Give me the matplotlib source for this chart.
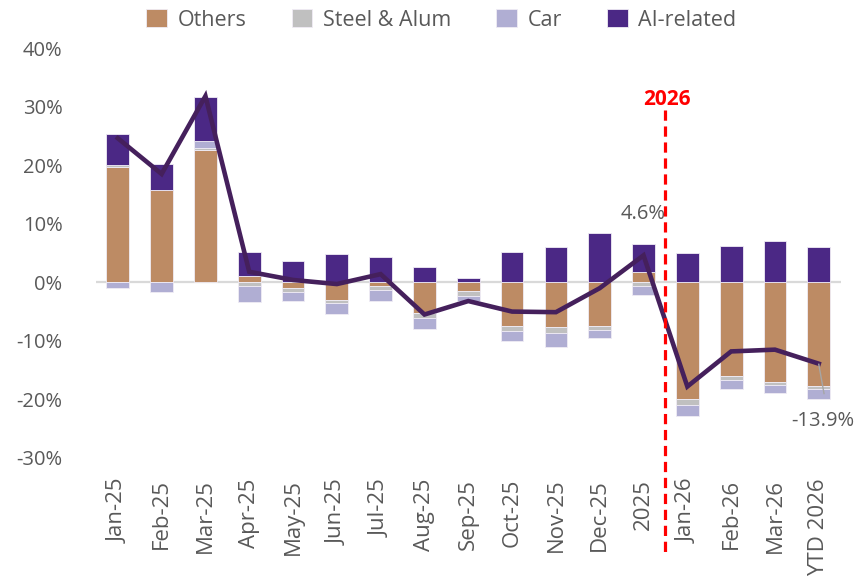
import matplotlib
matplotlib.use("Agg")
import matplotlib.pyplot as plt
import numpy as np

labels = ["Jan-25", "Feb-25", "Mar-25", "Apr-25", "May-25", "Jun-25", "Jul-25",
          "Aug-25", "Sep-25", "Oct-25", "Nov-25", "Dec-25", "2025",
          "Jan-26", "Feb-26", "Mar-26", "YTD 2026"]

others = [19.7, 15.7, 22.6, 1.0, -1.0, -3.0, -0.6, -5.3, -1.5, -7.5, -7.7, -7.5, 1.7,
          -19.9, -16.0, -17.1, -17.7]
steel = [0.3, 0.0, 0.4, -0.6, -0.7, -0.6, -0.7, -0.8, -0.8, -0.8, -0.9, -0.7, -0.6,
         -1.0, -0.7, -0.4, -0.6]
car = [-1.0, -1.7, 1.1, -2.8, -1.5, -1.8, -1.9, -1.8, -0.9, -1.8, -2.4, -1.3, -1.5,
       -1.9, -1.5, -1.4, -1.7]
ai = [5.4, 4.5, 7.6, 4.1, 3.6, 4.9, 4.4, 2.6, 0.7, 5.2, 6.0, 8.4, 4.8,
      5.0, 6.2, 7.1, 6.1]
total = [24.6, 18.5, 31.8, 1.8, 0.4, -0.3, 1.4, -5.5, -3.2, -5.0, -5.1, -1.0, 4.6,
         -17.8, -11.8, -11.5, -13.9]

plt.rcParams['font.family'] = ['Open Sans', 'DejaVu Sans']
grey_txt = "#595959"

fig = plt.figure(figsize=(8.64, 5.79), dpi=100)
ax = fig.add_axes([0.111, 0.209, 0.862, 0.708])

x = np.arange(len(labels))
pos_bottom = np.zeros(len(labels))
neg_bottom = np.zeros(len(labels))
series = [("Others", others, "#bd8b64"), ("Steel & Alum", steel, "#c0c0c0"),
          ("Car", car, "#b0aed3"), ("AI-related", ai, "#4b2885")]
for name, vals, col in series:
    vals = np.array(vals)
    bottom = np.where(vals >= 0, pos_bottom, neg_bottom)
    ax.bar(x, vals, 0.52, bottom=bottom, color=col, label=name,
           edgecolor="#f0ecf5", linewidth=0.6, zorder=2)
    pos_bottom += np.where(vals >= 0, vals, 0)
    neg_bottom += np.where(vals < 0, vals, 0)

ax.axhline(0, color="#d9d9d9", lw=1.6, zorder=1)
ax.plot(x, total, color="#45205c", lw=3.3, zorder=4, solid_joinstyle="miter")

# 2026 divider
ax.plot([12.5, 12.5], [29.5, -46.5], color="#ff0000", lw=2.3, dashes=(3.2, 1.8),
        clip_on=False, zorder=5)
ax.text(12.53, 31.3, "2026", color="#ff0000", fontsize=15, fontweight="bold",
        ha="center", va="center")

ax.text(12.0, 11.7, "4.6%", color=grey_txt, fontsize=14.5, ha="center", va="center")
ax.plot([16.0, 16.12], [-14.0, -19.0], color="#a6a6a6", lw=1, zorder=5)
ax.text(16.1, -23.6, "-13.9%", color=grey_txt, fontsize=14.5, ha="center", va="center",
        clip_on=False)

ax.set_xlim(-0.5, 16.5)
ax.set_ylim(-30, 40)
ax.set_yticks(range(-30, 41, 10))
ax.set_yticklabels([f"{v}%" for v in range(-30, 41, 10)])
ax.set_xticks(x)
ax.set_xticklabels(labels, rotation=90)
ax.tick_params(axis="both", length=0, colors=grey_txt)
ax.tick_params(axis="x", pad=15, labelsize=16)
ax.tick_params(axis="y", pad=24, labelsize=14.5)
for s in ax.spines.values():
    s.set_visible(False)

fig.legend(loc="center", bbox_to_anchor=(0.511, 0.966), ncol=4, frameon=False,
           fontsize=15.5, labelcolor=grey_txt, handlelength=0.95, handleheight=0.95,
           columnspacing=2.1, handletextpad=0.5)

fig.savefig("out.png", dpi=100)
